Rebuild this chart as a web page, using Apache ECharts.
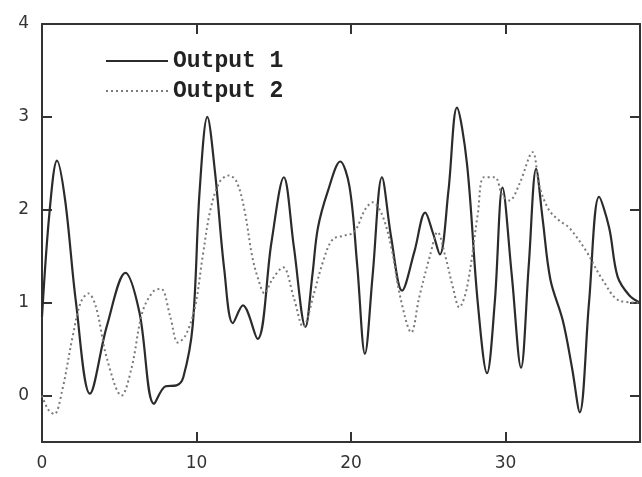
<!DOCTYPE html>
<html>
<head>
<meta charset="utf-8">
<title>Output 1 / Output 2</title>
<script src="https://cdn.jsdelivr.net/npm/echarts@6/dist/echarts.min.js"></script>
<style>
  html, body { margin: 0; padding: 0; background: #fff; }
  #chart { width: 642px; height: 477px; }
</style>
</head>
<body>
<div id="chart"></div>
<script>
// values
var out1X = [0, 0.5, 0.97, 1.5, 2.2, 3.1, 4.2, 5.4, 6.3, 7.25, 8.0, 8.7, 9.15, 9.75, 10.2, 10.7, 11.2, 11.8, 12.35, 13.0, 13.95, 14.85, 15.65, 16.3, 17.05, 17.5, 17.85, 18.5, 19.3, 19.9, 20.4, 20.9, 21.4, 22.0, 22.6, 23.3, 24.1, 24.8, 25.3, 25.75, 26.3, 26.85, 27.5, 28.2, 28.8, 29.3, 29.8, 30.4, 31.0, 31.5, 31.98, 32.4, 32.9, 33.7, 34.3, 34.8, 35.4, 36.05, 36.7, 37.25, 38.0, 38.7];
var out1Y = [0.85, 2.0, 2.53, 2.1, 1.0, 0.02, 0.75, 1.32, 0.9, -0.09, 0.1, 0.11, 0.2, 0.75, 2.2, 3.0, 2.4, 1.35, 0.78, 0.97, 0.61, 1.65, 2.35, 1.6, 0.74, 1.3, 1.8, 2.2, 2.52, 2.25, 1.4, 0.45, 1.3, 2.35, 1.7, 1.13, 1.55, 1.97, 1.75, 1.52, 2.2, 3.1, 2.5, 1.0, 0.24, 1.0, 2.24, 1.3, 0.3, 1.4, 2.44, 1.9, 1.25, 0.81, 0.3, -0.18, 1.0, 2.14, 1.81, 1.28, 1.08, 1.0];

var out2X = [0, 0.4, 0.8, 1.3, 2.0, 2.5, 3.0, 3.5, 4.2, 5.15, 5.8, 6.5, 7.2, 7.7, 8.3, 8.8, 9.3, 9.9, 10.4, 10.9, 11.5, 12.1, 12.6, 13.1, 13.6, 14.0, 14.4, 14.9, 15.6, 16.3, 16.9, 17.6, 18.2, 18.8, 19.5, 20.2, 20.9, 21.4, 22.0, 22.6, 23.2, 23.9, 24.4, 25.1, 25.6, 26.1, 26.6, 27.0, 27.5, 28.2, 28.6, 29.3, 29.8, 30.25, 30.9, 31.75, 32.2, 32.8, 33.5, 34.1, 35.2, 36.3, 37.4, 38.7];
var out2Y = [0.0, -0.15, -0.2, 0.05, 0.65, 1.0, 1.1, 0.95, 0.4, 0.0, 0.3, 0.9, 1.12, 1.15, 0.85, 0.57, 0.65, 0.95, 1.5, 2.0, 2.3, 2.37, 2.3, 2.0, 1.5, 1.25, 1.1, 1.25, 1.38, 1.05, 0.74, 1.1, 1.45, 1.68, 1.72, 1.76, 2.0, 2.08, 1.95, 1.6, 1.05, 0.68, 1.05, 1.5, 1.76, 1.5, 1.16, 0.95, 1.16, 1.95, 2.35, 2.35, 2.15, 2.1, 2.28, 2.62, 2.25, 2.0, 1.88, 1.81, 1.56, 1.24, 1.02, 1.0];

var xTicks = [0, 10, 20, 30];
var yTicks = [0, 1, 2, 3, 4];

function pairs(xs, ys) {
    var res = [];
    for (var i = 0; i < xs.length; i++) {
        res.push([xs[i], ys[i]]);
    }
    return res;
}

var axisColor = '#333';
var xMin = 0, xMax = 38.7, yMin = -0.5, yMax = 4;

function frameAxis(pos, min, max, ticks, labels) {
    return {
        type: 'value', min: min, max: max, position: pos,
        splitLine: { show: false },
        axisLine: { show: true, onZero: false, lineStyle: { color: axisColor, width: 2 } },
        axisTick: { show: true, inside: true, length: 10, customValues: ticks, lineStyle: { color: axisColor, width: 2 } },
        axisLabel: labels ? { customValues: labels, margin: 13, fontSize: 17, color: '#333', fontFamily: 'DejaVu Sans' } : { show: false }
    };
}

var option = {
    backgroundColor: '#fff',
    animation: false,
    grid: { left: 42, top: 24, right: 2, bottom: 35 },
    legend: {
        orient: 'vertical',
        left: 100,
        top: 44,
        itemWidth: 62,
        itemHeight: 14,
        itemGap: 6,
        itemStyle: { opacity: 0 },
        data: ['Output 1', 'Output 2'],
        textStyle: {
            fontFamily: 'Liberation Mono',
            fontWeight: 'bold',
            fontSize: 23,
            lineHeight: 24,
            color: '#222',
            padding: [0, 0, 0, 0]
        }
    },
    xAxis: [
        frameAxis('bottom', xMin, xMax, [10, 20, 30], xTicks),
        frameAxis('top', xMin, xMax, [10, 20, 30], null)
    ],
    yAxis: [
        frameAxis('left', yMin, yMax, [0, 1, 2, 3], yTicks),
        frameAxis('right', yMin, yMax, [0, 1, 2, 3], null)
    ],
    series: [{
        name: 'Output 1',
        type: 'line',
        xAxisIndex: 0, yAxisIndex: 0,
        symbol: 'none',
        smooth: 0.35,
        data: pairs(out1X, out1Y),
        lineStyle: { color: '#2b2b2b', width: 2.2, type: 'solid' },
        itemStyle: { color: '#2b2b2b' }
    }, {
        name: 'Output 2',
        type: 'line',
        xAxisIndex: 0, yAxisIndex: 0,
        symbol: 'none',
        smooth: 0.35,
        data: pairs(out2X, out2Y),
        lineStyle: { color: '#7a7a7a', width: 2, type: [2, 3] },
        itemStyle: { color: '#7a7a7a' }
    }]
};

var myChart = echarts.init(document.getElementById('chart'));
myChart.setOption(option);
</script>
</body>
</html>
